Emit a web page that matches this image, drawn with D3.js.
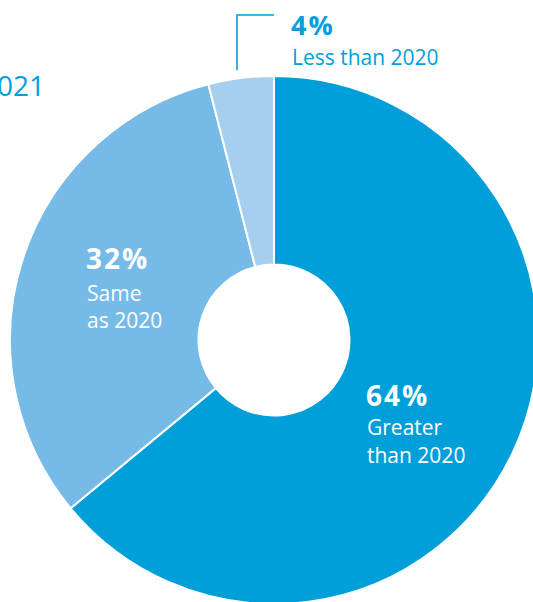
<!DOCTYPE html>
<html>
<head>
<meta charset="utf-8">
<script src="https://cdn.jsdelivr.net/npm/d3@7/dist/d3.min.js"></script>
<style>
  html, body { margin: 0; padding: 0; background: #fff; overflow: hidden; }
  svg { display: block; }
  text { font-family: "Open Sans", "Noto Sans", sans-serif; }
</style>
</head>
<body>
<svg id="chart" width="533" height="602"></svg>
<script>
// Investment outlook for 2021 compared with 2020
const categories = ["Greater than 2020", "Same as 2020", "Less than 2020"];
const shares = [64, 32, 4];
const pctLabels = ["64%", "32%", "4%"];
const labelLines = [["Greater", "than 2020"], ["Same", "as 2020"], ["Less than 2020"]];
const sliceColors = ["#009fda", "#76bbe8", "#a5cfee"];

const svg = d3.select("#chart");
const cx = 274, cy = 340;
const outerR = 264, innerR = 75.5;

const pie = d3.pie().sort(null).value(d => d)
  .startAngle(0).endAngle(2 * Math.PI);
const arcs = pie(shares);
const arc = d3.arc().innerRadius(innerR).outerRadius(outerR);

const g = svg.append("g").attr("transform", `translate(${cx},${cy})`);
g.selectAll("path.slice")
  .data(arcs)
  .join("path")
  .attr("class", "slice")
  .attr("d", arc)
  .attr("fill", (d, i) => sliceColors[i])
  .attr("stroke", "#fff")
  .attr("stroke-width", 2)
  .attr("stroke-linejoin", "miter");

// Title (runs off the left edge)
svg.append("text")
  .attr("x", 45).attr("y", 96)
  .attr("text-anchor", "end")
  .attr("fill", "#009fda")
  .attr("font-size", 28)
  .attr("font-weight", 400)
  .text("2021");

// In-slice labels
const inside = [
  { i: 0, x: 366, y: 406, lines: [435, 463] },
  { i: 1, x: 86, y: 269, lines: [301, 328] }
];
inside.forEach(p => {
  svg.append("text")
    .attr("x", p.x).attr("y", p.y)
    .attr("fill", "#fff").attr("font-size", 28).attr("font-weight", 700)
    .attr("letter-spacing", 2)
    .text(pctLabels[p.i]);
  labelLines[p.i].forEach((t, k) => {
    svg.append("text")
      .attr("x", p.x + 1).attr("y", p.lines[k])
      .attr("fill", "#fff").attr("font-size", 21).attr("font-weight", 400)
      .text(t);
  });
});

// Outside label for the small slice with a leader line
svg.append("path")
  .attr("d", "M237,70 V15 H274")
  .attr("fill", "none")
  .attr("stroke", "#009fda")
  .attr("stroke-width", 1.6);
svg.append("text")
  .attr("x", 291).attr("y", 35)
  .attr("fill", "#009fda").attr("font-size", 27).attr("font-weight", 700)
  .attr("letter-spacing", 2)
  .text(pctLabels[2]);
svg.append("text")
  .attr("x", 292).attr("y", 65)
  .attr("fill", "#009fda").attr("font-size", 21).attr("font-weight", 400)
  .text(labelLines[2][0]);
</script>
</body>
</html>
